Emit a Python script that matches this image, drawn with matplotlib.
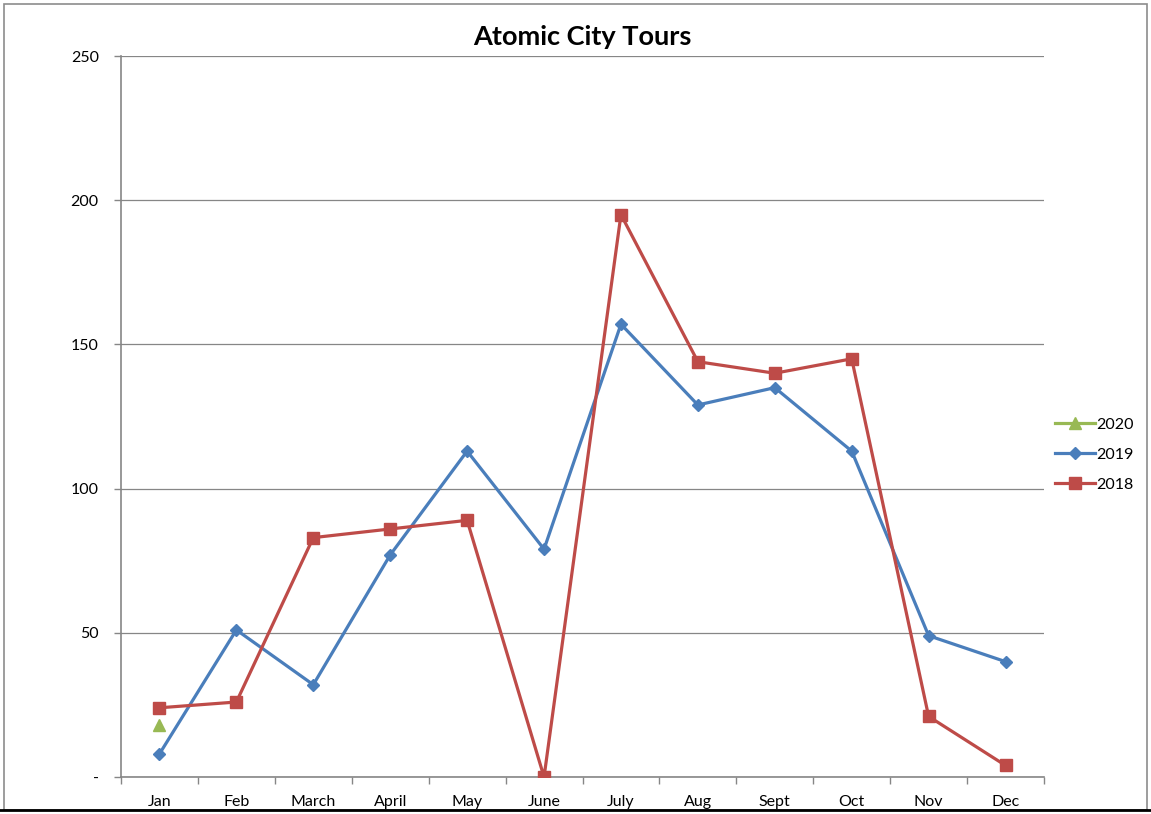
import matplotlib
matplotlib.use("Agg")
import matplotlib.pyplot as plt
from matplotlib.lines import Line2D
from matplotlib.patches import Rectangle

months = ["Jan", "Feb", "March", "April", "May", "June", "July", "Aug", "Sept", "Oct", "Nov", "Dec"]
s2020 = [18]
s2019 = [8, 51, 32, 77, 113, 79, 157, 129, 135, 113, 49, 40]
s2018 = [24, 26, 83, 86, 89, 0, 195, 144, 140, 145, 21, 4]
yticks = [0, 50, 100, 150, 200, 250]
ytick_labels = ["-", "50", "100", "150", "200", "250"]

plt.rcParams['font.family'] = ['Lato', 'DejaVu Sans']

fig = plt.figure(figsize=(11.51, 8.14), dpi=100)
ax = fig.add_axes([121/1151, 1 - 777/814, (1044 - 121)/1151, (777 - 56)/814])

blue = "#4a7ebb"
red = "#be4b48"
green = "#98b954"

x = list(range(len(months)))
ax.plot(x[:len(s2020)], s2020, color=green, lw=2.3, marker="^", ms=9, label="2020", zorder=3)
ax.plot(x, s2019, color=blue, lw=2.3, marker="D", ms=6.5, label="2019", zorder=3)
ax.plot(x, s2018, color=red, lw=2.3, marker="s", ms=8.5, label="2018", zorder=4)

ax.set_xlim(-0.5, len(months) - 0.5)
ax.set_ylim(0, 250)
ax.set_yticks(yticks)
ax.set_yticklabels(ytick_labels, fontsize=11.5)
ax.set_xticks(x)
ax.set_xticklabels(months, fontsize=11.5)
ax.tick_params(axis='x', length=0, pad=13)
ax.set_xticks([i - 0.5 for i in range(len(months) + 1)], minor=True)
ax.tick_params(axis='x', which='minor', length=5, color="#868686", width=1)
ax.tick_params(axis='y', length=5, color="#868686", width=1, pad=11)

ax.grid(axis='y', color="#868686", lw=0.9)
ax.set_axisbelow(True)
for s in ["top", "right"]:
    ax.spines[s].set_visible(False)
for s in ["left", "bottom"]:
    ax.spines[s].set_color("#868686")
    ax.spines[s].set_linewidth(1.2)

ax.set_title("Atomic City Tours", fontsize=19.5, fontweight="bold", pad=8)

leg = ax.legend(loc="center left", bbox_to_anchor=(0.996, 0.447), frameon=False,
                fontsize=11.5, handlelength=2.5, handletextpad=0.1, labelspacing=1.0)

# outer frame
fig.patches.append(Rectangle((4/1151, 4/814), 1 - 8/1151, 1 - 8/814, transform=fig.transFigure,
                             fill=False, edgecolor="#8c8c8c", lw=1.2))
fig.lines.append(Line2D([0, 1], [1 - 810/814, 1 - 810/814], transform=fig.transFigure, color="black", lw=2))

fig.savefig("out.png", dpi=100)
